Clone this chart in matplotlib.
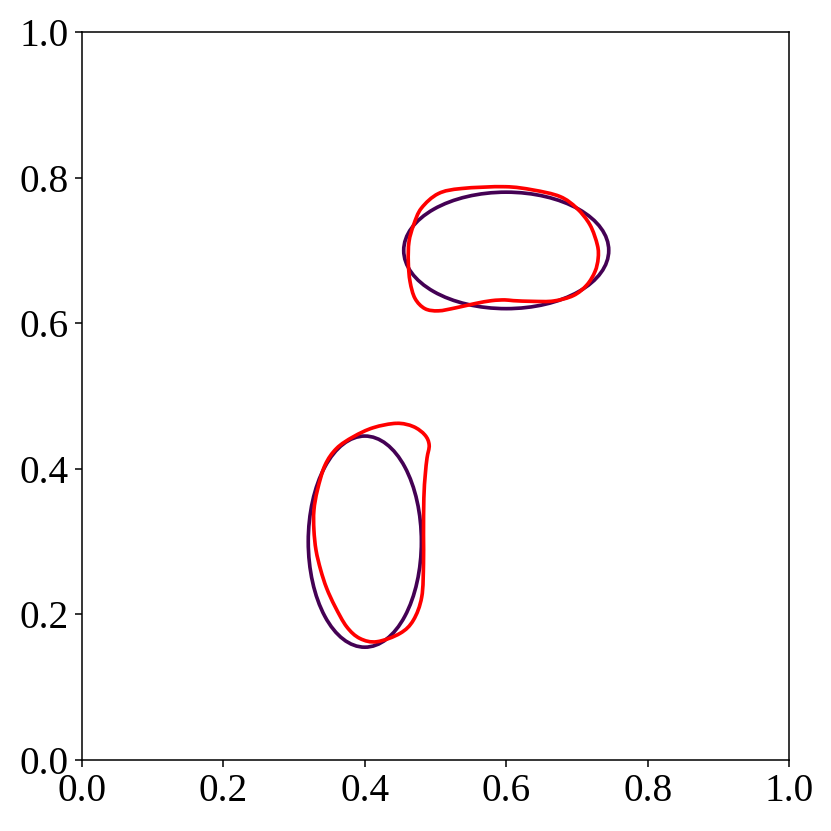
import matplotlib
matplotlib.use("Agg")
import matplotlib.pyplot as plt
import numpy as np
from matplotlib.patches import Ellipse, PathPatch
from matplotlib.path import Path

# level-set ellipses: (center x, center y, width, height)
ellipse_centers = [(0.6, 0.7), (0.4, 0.3)]
ellipse_widths = [0.29, 0.16]
ellipse_heights = [0.16, 0.29]

# red contours
upper_x = [0.598, 0.537, 0.504, 0.480, 0.469, 0.4625, 0.4615, 0.464, 0.471,
           0.485, 0.504, 0.528, 0.556, 0.5795, 0.598, 0.610, 0.638, 0.667,
           0.695, 0.714, 0.7256, 0.730, 0.729, 0.7185, 0.6997, 0.676, 0.638]
upper_y = [0.7875, 0.785, 0.778, 0.758, 0.735, 0.712, 0.684, 0.657, 0.634,
           0.620, 0.617, 0.621, 0.627, 0.631, 0.632, 0.631, 0.630, 0.6305,
           0.638, 0.6525, 0.671, 0.689, 0.707, 0.735, 0.758, 0.774, 0.783]

lower_x = [0.445, 0.412, 0.3837, 0.360, 0.3437, 0.333, 0.328, 0.328, 0.331,
           0.3376, 0.346, 0.358, 0.3744, 0.393, 0.417, 0.4498, 0.4686, 0.4805,
           0.483, 0.483, 0.4835, 0.4855, 0.488, 0.491, 0.485, 0.4686]
lower_y = [0.4625, 0.4565, 0.444, 0.428, 0.405, 0.371, 0.343, 0.316, 0.288,
           0.261, 0.236, 0.2106, 0.183, 0.167, 0.1625, 0.174, 0.192, 0.224,
           0.270, 0.309, 0.360, 0.392, 0.415, 0.4327, 0.4464, 0.458]


def smooth_closed_path(xs, ys):
    # closed curve through the points, drawn with cubic bezier segments
    p = np.column_stack([xs, ys])
    n = len(p)
    verts = [p[0]]
    codes = [Path.MOVETO]
    for i in range(n):
        p0, p1, p2, p3 = p[i - 1], p[i], p[(i + 1) % n], p[(i + 2) % n]
        verts += [p1 + (p2 - p0) / 6, p2 - (p3 - p1) / 6, p2]
        codes += [Path.CURVE4] * 3
    return Path(verts, codes)


def main():
    plt.rcParams["font.family"] = ["Liberation Serif", "DejaVu Serif"]
    fig = plt.figure(figsize=(6, 6), dpi=138.5)
    ax = fig.add_axes([0.0987, 0.0854, 0.8508, 0.8761])

    for (cx, cy), w, h in zip(ellipse_centers, ellipse_widths, ellipse_heights):
        ax.add_patch(Ellipse((cx, cy), w, h, fill=False,
                             edgecolor="#440154", linewidth=1.9))

    for xs, ys in [(upper_x, upper_y), (lower_x, lower_y)]:
        ax.add_patch(PathPatch(smooth_closed_path(xs, ys), fill=False,
                               edgecolor="red", linewidth=1.9))

    ax.set_xlim(0, 1)
    ax.set_ylim(0, 1)
    ticks = [0.0, 0.2, 0.4, 0.6, 0.8, 1.0]
    ax.set_xticks(ticks)
    ax.set_yticks(ticks)
    ax.tick_params(labelsize=20.5)
    fig.savefig("out.png", dpi=138.5)


if __name__ == "__main__":
    main()
